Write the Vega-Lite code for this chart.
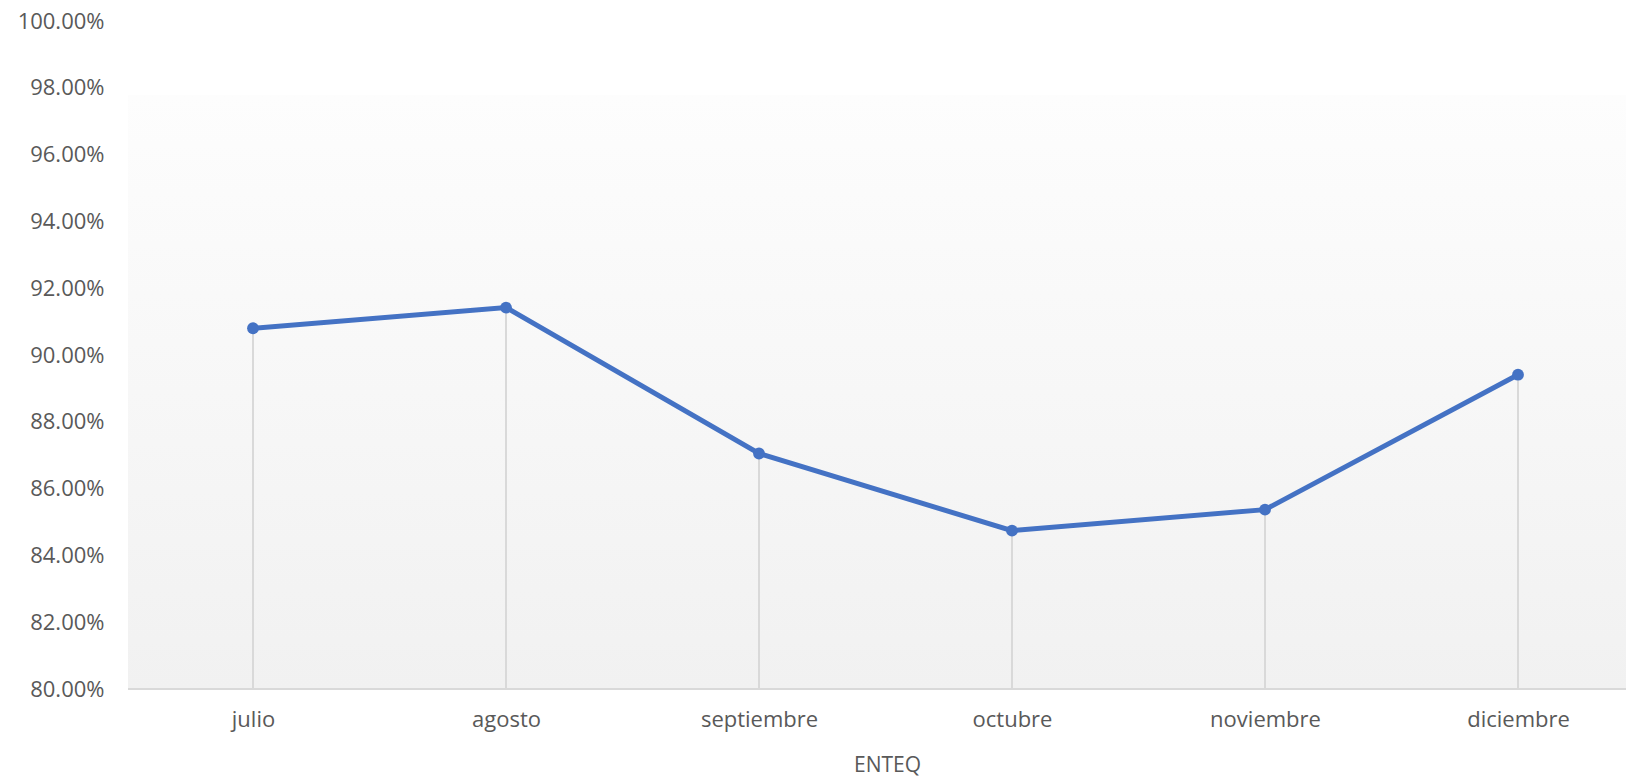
{
  "$schema": "https://vega.github.io/schema/vega-lite/v6.json",
  "autosize": {"type": "none"},
  "padding": {"left": 128, "top": 21, "right": 0, "bottom": 89},
  "width": 1498,
  "height": 668,
  "background": "white",
  "config": {
    "view": {"stroke": null},
    "font": "Open Sans",
    "axis": {"labelFont": "Open Sans", "titleFont": "Open Sans", "labelColor": "#595959", "titleColor": "#595959"}
  },
  "data": {
    "values": [
      {"mes": "julio", "valor": 0.9080},
      {"mes": "agosto", "valor": 0.9142},
      {"mes": "septiembre", "valor": 0.8705},
      {"mes": "octubre", "valor": 0.8474},
      {"mes": "noviembre", "valor": 0.8537},
      {"mes": "diciembre", "valor": 0.8941}
    ]
  },
  "encoding": {
    "x": {
      "field": "mes", "type": "ordinal", "sort": null,
      "scale": {"type": "point", "range": [125, 1390], "padding": 0},
      "axis": {
        "title": "ENTEQ", "labelAngle": 0, "domain": false, "ticks": false, "grid": false,
        "labelFontSize": 22, "labelPadding": 20, "titleFontSize": 21, "titleFontWeight": "normal",
        "titlePadding": 24, "titleX": 759
      }
    }
  },
  "layer": [
    {
      "mark": {
        "type": "rect",
        "fill": {
          "gradient": "linear", "x1": 0, "y1": 0, "x2": 0, "y2": 1,
          "stops": [
            {"offset": 0, "color": "#fdfdfd"},
            {"offset": 1, "color": "#f1f1f1"}
          ]
        }
      },
      "encoding": {
        "x": null,
        "y": {"datum": 0.9778, "type": "quantitative", "scale": {"domain": [0.8, 1.0]}},
        "y2": {"datum": 0.8}
      }
    },
    {
      "mark": {"type": "rule", "color": "#d9d9d9", "strokeWidth": 2},
      "encoding": {
        "y": {"field": "valor", "type": "quantitative"},
        "y2": {"datum": 0.8}
      }
    },
    {
      "mark": {"type": "rule", "color": "#d9d9d9", "strokeWidth": 2},
      "encoding": {"x": null, "y": {"datum": 0.8, "type": "quantitative"}}
    },
    {
      "mark": {"type": "line", "color": "#4472C4", "strokeWidth": 5, "point": {"filled": true, "size": 140, "color": "#4472C4", "opacity": 1}},
      "encoding": {
        "y": {
          "field": "valor", "type": "quantitative",
          "scale": {"domain": [0.8, 1.0]},
          "axis": {
            "title": null, "format": ".2%", "values": [0.8, 0.82, 0.84, 0.86, 0.88, 0.9, 0.92, 0.94, 0.96, 0.98, 1.0],
            "domain": false, "ticks": false, "grid": false,
            "labelFontSize": 22, "labelPadding": 24
          }
        }
      }
    }
  ]
}
